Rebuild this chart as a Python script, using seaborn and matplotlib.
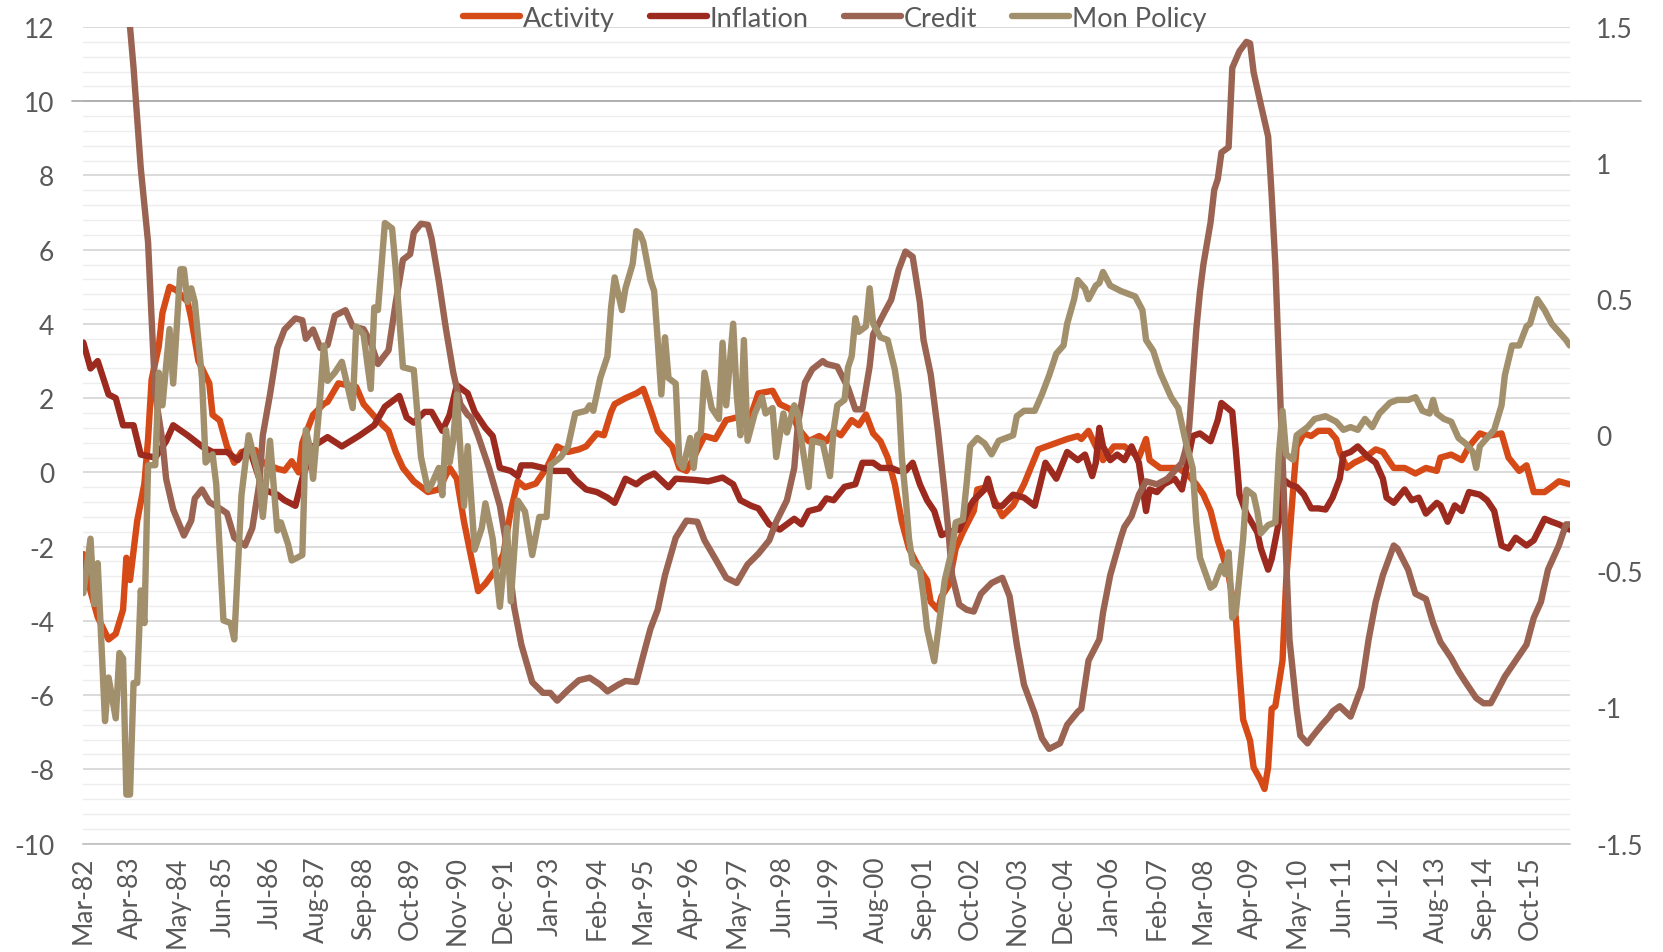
import numpy as np
import pandas as pd
import matplotlib
matplotlib.use("Agg")
import matplotlib.pyplot as plt
from matplotlib.lines import Line2D
import seaborn as sns

# ── Data: (months since Mar-82, value) ────────────────────────────────
activity = [
    (0, -2.2), (2, -3.2), (4, -3.9), (7, -4.5), (9, -4.35), (11, -3.7), (12, -2.3), (13, -2.9),
    (15, -1.3), (17, -0.3), (18, 0.9), (19, 2.5), (21, 3.4), (22, 4.3), (24, 5.0), (26, 4.9),
    (29, 4.6), (30, 4.15), (32, 3.0), (34, 2.6), (35, 2.4), (36, 1.55), (38, 1.4), (40, 0.7),
    (42, 0.26), (44, 0.55), (48, 0.6), (50, 0.26), (54, 0.1), (56, 0.05), (58, 0.3), (60, 0.0),
    (61, 0.8), (64, 1.55), (67, 1.85), (68, 1.9), (71, 2.4), (76, 2.3), (78, 1.84), (82, 1.4),
    (85, 1.12), (87, 0.55), (89, 0.12), (92, -0.24), (96, -0.53), (99, -0.46), (102, 0.12),
    (104, -0.17), (106, -1.33), (108, -2.26), (110, -3.2), (112, -3.0), (115, -2.6), (117, -2.2),
    (119, -1.04), (121, -0.24), (123, -0.4), (126, -0.3), (129, 0.12), (132, 0.7), (135, 0.55),
    (138, 0.62), (140, 0.7), (143, 1.05), (145, 1.0), (147, 1.63), (148, 1.84), (151, 2.0),
    (154, 2.13), (156, 2.25), (158, 1.7), (160, 1.12), (162, 0.9), (164, 0.7), (166, 0.12),
    (168, 0.04), (170, 0.4), (173, 0.98), (176, 0.9), (179, 1.41), (182, 1.48), (185, 1.27),
    (188, 2.13), (192, 2.2), (194, 1.84), (197, 1.7), (199, 1.2), (202, 0.84), (205, 0.98),
    (207, 0.84), (209, 1.12), (211, 1.0), (214, 1.41), (216, 1.27), (218, 1.56), (220, 1.05),
    (222, 0.84), (224, 0.4), (226, -0.32), (228, -1.33), (230, -2.05), (233, -2.62), (235, -2.91),
    (236, -3.49), (238, -3.7), (239, -3.34), (241, -3.05), (243, -2.05), (245, -1.61), (248, -1.04),
    (249, -0.46), (252, -0.39), (256, -1.18), (259, -0.89), (262, -0.32), (266, 0.62), (270, 0.76),
    (274, 0.9), (277, 0.98), (278, 0.9), (280, 1.12), (282, 0.7), (284, 0.33), (287, 0.7),
    (290, 0.7), (292, 0.55), (294, 0.4), (296, 0.9), (297, 0.33), (300, 0.12), (303, 0.12),
    (305, 0.12), (308, -0.1), (310, -0.32), (312, -0.6), (314, -1.04), (316, -1.83), (317, -2.12),
    (319, -2.77), (321, -3.92), (322, -5.36), (323, -6.66), (325, -7.23), (326, -7.95), (328, -8.3),
    (329, -8.53), (330, -7.95), (331, -6.37), (332, -6.3), (334, -5.07), (335, -2.91), (336, -1.76),
    (337, -0.46), (338, 0.7), (340, 1.05), (342, 0.98), (344, 1.12), (347, 1.12), (349, 0.9),
    (350, 0.55), (352, 0.12), (354, 0.26), (357, 0.4), (360, 0.62), (362, 0.55), (365, 0.12),
    (368, 0.12), (371, -0.03), (374, 0.12), (377, 0.04), (378, 0.4), (381, 0.48), (384, 0.33),
    (386, 0.7), (389, 1.05), (391, 0.98), (395, 1.05), (397, 0.4), (400, 0.04), (402, 0.19),
    (404, -0.53), (407, -0.53), (409, -0.39), (411, -0.24), (414, -0.32),
]

inflation = [
    (0, 3.5), (2, 2.8), (4, 3.0), (7, 2.1), (9, 2.0), (11, 1.27), (14, 1.27), (16, 0.48),
    (20, 0.4), (23, 0.84), (25, 1.27), (29, 1.0), (33, 0.7), (36, 0.55), (40, 0.55), (43, 0.33),
    (46, 0.7), (50, -0.46), (54, -0.6), (56, -0.75), (59, -0.9), (61, -0.17), (64, 0.7), (68, 0.95),
    (72, 0.7), (77, 1.0), (81, 1.27), (84, 1.77), (88, 2.06), (90, 1.48), (92, 1.34), (95, 1.63),
    (97, 1.63), (100, 1.12), (102, 1.55), (104, 2.35), (107, 2.13), (109, 1.63), (112, 1.2),
    (114, 0.98), (116, 0.12), (119, 0.04), (121, -0.1), (122, 0.19), (125, 0.19), (128, 0.12),
    (131, 0.04), (135, 0.04), (137, -0.2), (140, -0.46), (143, -0.53), (146, -0.68), (148, -0.82),
    (151, -0.17), (154, -0.32), (156, -0.17), (159, -0.03), (163, -0.4), (165, -0.17), (170, -0.2),
    (174, -0.24), (178, -0.14), (181, -0.32), (183, -0.75), (186, -0.9), (188, -0.97), (191, -1.4),
    (194, -1.54), (198, -1.25), (200, -1.4), (202, -1.04), (205, -0.97), (207, -0.7), (209, -0.75),
    (212, -0.39), (215, -0.32), (217, 0.26), (220, 0.26), (222, 0.12), (225, 0.12), (227, 0.04),
    (229, 0.04), (231, 0.26), (233, -0.32), (235, -0.75), (237, -1.04), (239, -1.69), (241, -1.61),
    (244, -1.54), (247, -0.9), (248, -0.75), (251, -0.46), (252, -0.17), (254, -0.9), (256, -0.9),
    (259, -0.6), (262, -0.68), (265, -0.9), (268, 0.26), (271, -0.17), (274, 0.55), (277, 0.33),
    (279, 0.48), (281, -0.1), (282, 0.26), (283, 1.2), (284, 0.7), (286, 0.33), (288, 0.48),
    (290, 0.33), (292, 0.7), (294, 0.26), (296, -1.04), (297, -0.46), (299, -0.53), (301, -0.32),
    (304, -0.17), (306, -0.46), (309, 0.98), (311, 1.05), (314, 0.84), (316, 1.41), (317, 1.87),
    (320, 1.63), (321, 0.6), (322, -0.6), (324, -1.11), (327, -1.61), (328, -2.05), (330, -2.62),
    (331, -2.33), (333, -1.33), (334, -0.17), (336, -0.32), (338, -0.39), (340, -0.6), (342, -0.97),
    (344, -0.97), (346, -1.0), (348, -0.68), (350, -0.17), (351, 0.48), (353, 0.55), (355, 0.7),
    (358, 0.4), (360, 0.26), (362, -0.17), (363, -0.68), (365, -0.82), (368, -0.46), (370, -0.75),
    (372, -0.68), (374, -1.11), (377, -0.82), (378, -0.89), (380, -1.33), (382, -0.89), (384, -1.04),
    (386, -0.53), (389, -0.6), (391, -0.75), (393, -1.04), (395, -1.97), (397, -2.05), (399, -1.76),
    (402, -1.97), (404, -1.83), (407, -1.25), (409, -1.33), (411, -1.4), (414, -1.54),
]

credit = [
    (0, 25.0), (3, 22.0), (6, 19.0), (9, 16.0), (12, 13.0), (13, 12.0), (14, 10.9), (16, 8.2),
    (18, 6.2), (19, 4.15), (20, 2.1), (22, 0.84), (23, -0.17), (25, -1.0), (28, -1.7), (30, -1.3),
    (31, -0.7), (33, -0.46), (35, -0.8), (38, -0.97), (40, -1.1), (42, -1.76), (45, -1.97),
    (47, -1.5), (49, -0.3), (50, 1.0), (52, 2.1), (54, 3.35), (56, 3.85), (59, 4.15), (61, 4.1),
    (62, 3.6), (64, 3.85), (66, 3.35), (68, 3.43), (70, 4.22), (73, 4.37), (75, 3.93), (78, 3.86),
    (80, 3.5), (82, 2.92), (85, 3.29), (87, 4.58), (89, 5.73), (91, 5.88), (92, 6.46), (94, 6.7),
    (96, 6.67), (97, 6.3), (99, 5.16), (101, 3.86), (103, 2.7), (105, 1.84), (107, 1.55),
    (108, 1.48), (110, 0.98), (113, 0.12), (116, -0.9), (118, -2.05), (120, -3.63), (122, -4.64),
    (125, -5.65), (128, -5.94), (130, -5.94), (132, -6.15), (135, -5.86), (138, -5.6), (141, -5.53),
    (144, -5.72), (146, -5.9), (149, -5.72), (151, -5.62), (154, -5.65), (156, -4.93), (158, -4.21),
    (160, -3.7), (162, -2.77), (165, -1.76), (168, -1.3), (171, -1.33), (173, -1.83), (176, -2.33),
    (179, -2.84), (182, -2.98), (185, -2.48), (188, -2.19), (191, -1.83), (193, -1.33), (196, -0.75),
    (198, 0.12), (199, 1.27), (201, 2.42), (203, 2.78), (206, 3.0), (207, 2.92), (210, 2.85),
    (213, 2.28), (215, 1.7), (217, 1.7), (219, 2.85), (220, 3.72), (223, 4.29), (225, 4.65),
    (227, 5.45), (229, 5.95), (231, 5.81), (233, 4.58), (234, 3.57), (236, 2.64), (238, 1.12),
    (240, -0.6), (241, -1.61), (242, -2.77), (244, -3.56), (246, -3.7), (248, -3.75), (250, -3.27),
    (253, -2.98), (256, -2.84), (258, -3.34), (260, -4.64), (262, -5.72), (265, -6.5), (267, -7.16),
    (269, -7.45), (272, -7.3), (274, -6.8), (277, -6.45), (278, -6.37), (280, -5.07), (283, -4.5),
    (284, -3.78), (286, -2.77), (289, -1.76), (290, -1.47), (292, -1.18), (294, -0.6), (296, -0.24),
    (299, -0.32), (302, -0.17), (304, 0.04), (306, 0.26), (307, 0.6), (308, 1.2), (309, 2.5),
    (310, 3.86), (311, 4.87), (312, 5.6), (314, 6.74), (315, 7.61), (316, 7.9), (317, 8.62),
    (319, 8.76), (320, 10.9), (322, 11.35), (324, 11.6), (325, 11.56), (326, 10.78), (328, 9.91),
    (330, 9.05), (331, 7.46), (332, 5.6), (333, 3.0), (334, 0.4), (335, -2.33), (336, -4.5),
    (338, -6.37), (339, -7.09), (341, -7.3), (342, -7.16), (345, -6.8), (347, -6.58), (348, -6.44),
    (350, -6.3), (353, -6.58), (356, -5.79), (358, -4.5), (360, -3.49), (362, -2.77), (365, -1.97),
    (366, -2.05), (369, -2.62), (371, -3.27), (374, -3.41), (376, -4.06), (378, -4.57), (381, -5.0),
    (383, -5.36), (385, -5.65), (388, -6.08), (390, -6.22), (392, -6.22), (394, -5.86), (396, -5.5),
    (399, -5.07), (402, -4.64), (404, -3.92), (406, -3.49), (408, -2.62), (411, -1.97), (413, -1.4),
    (414, -1.4),
]

# secondary (right) axis
mon_policy = [
    (0, -0.58), (2, -0.38), (3, -0.62), (4, -0.47), (6, -1.05), (7, -0.89), (9, -1.04), (10, -0.80),
    (11, -0.82), (12, -1.32), (13, -1.32), (14, -0.91), (15, -0.91), (16, -0.57), (17, -0.69),
    (18, -0.11), (20, -0.11), (21, 0.23), (22, 0.11), (24, 0.39), (25, 0.19), (27, 0.61), (28, 0.61),
    (29, 0.49), (30, 0.54), (31, 0.49), (33, 0.21), (34, -0.10), (36, -0.07), (37, -0.18),
    (39, -0.68), (41, -0.69), (42, -0.75), (44, -0.22), (46, 0.00), (49, -0.16), (50, -0.30),
    (52, -0.02), (54, -0.35), (55, -0.32), (57, -0.40), (58, -0.46), (61, -0.44), (62, 0.02),
    (63, -0.04), (64, -0.16), (66, 0.15), (67, 0.33), (68, 0.20), (70, 0.23), (72, 0.27), (75, 0.10),
    (76, 0.40), (78, 0.37), (80, 0.17), (81, 0.47), (82, 0.46), (83, 0.63), (84, 0.78), (86, 0.76),
    (87, 0.61), (89, 0.25), (92, 0.24), (94, -0.08), (96, -0.20), (97, -0.18), (99, -0.12),
    (100, -0.22), (101, 0.02), (102, -0.10), (103, -0.02), (104, 0.15), (106, -0.26), (107, -0.04),
    (109, -0.42), (111, -0.34), (112, -0.25), (114, -0.38), (116, -0.63), (118, -0.34), (119, -0.61),
    (121, -0.24), (123, -0.28), (125, -0.44), (127, -0.30), (129, -0.30), (130, -0.11), (133, -0.08),
    (135, -0.04), (137, 0.08), (140, 0.09), (141, 0.11), (142, 0.09), (144, 0.21), (146, 0.29),
    (147, 0.47), (148, 0.58), (150, 0.46), (151, 0.54), (153, 0.63), (154, 0.75), (155, 0.74),
    (156, 0.71), (158, 0.57), (159, 0.53), (160, 0.35), (161, 0.15), (162, 0.36), (163, 0.21),
    (165, 0.19), (166, -0.10), (167, -0.12), (169, -0.01), (170, -0.12), (171, 0.00), (172, 0.01),
    (173, 0.23), (175, 0.10), (177, 0.06), (178, 0.34), (179, 0.11), (181, 0.41), (182, 0.15),
    (183, 0.00), (184, 0.35), (185, -0.02), (187, 0.08), (189, 0.14), (190, 0.08), (192, 0.10),
    (193, -0.08), (195, 0.08), (196, 0.01), (198, 0.11), (199, 0.08), (200, -0.02), (202, -0.19),
    (203, -0.02), (206, -0.03), (208, -0.15), (209, 0.02), (210, 0.11), (212, 0.13), (213, 0.25),
    (214, 0.29), (215, 0.43), (216, 0.38), (218, 0.40), (219, 0.54), (220, 0.41), (222, 0.36),
    (224, 0.35), (226, 0.24), (227, 0.15), (228, -0.08), (229, -0.22), (230, -0.38), (231, -0.47),
    (233, -0.49), (234, -0.59), (235, -0.71), (237, -0.83), (239, -0.62), (240, -0.53), (242, -0.42),
    (243, -0.32), (245, -0.31), (246, -0.18), (247, -0.04), (249, -0.01), (251, -0.03), (253, -0.07),
    (255, -0.02), (259, 0.00), (260, 0.07), (262, 0.09), (265, 0.09), (267, 0.15), (269, 0.22),
    (271, 0.30), (273, 0.33), (274, 0.41), (276, 0.50), (277, 0.57), (279, 0.54), (280, 0.50),
    (282, 0.55), (283, 0.56), (284, 0.60), (286, 0.55), (289, 0.53), (291, 0.52), (293, 0.51),
    (295, 0.46), (296, 0.35), (298, 0.31), (300, 0.23), (302, 0.17), (303, 0.14), (305, 0.10),
    (307, -0.02), (309, -0.12), (310, -0.32), (311, -0.45), (314, -0.56), (315, -0.55), (317, -0.48),
    (318, -0.51), (319, -0.43), (320, -0.67), (321, -0.65), (323, -0.38), (324, -0.20), (326, -0.22),
    (327, -0.28), (328, -0.36), (330, -0.33), (332, -0.32), (333, -0.07), (334, 0.09), (335, -0.07),
    (337, -0.09), (338, 0.00), (341, 0.03), (343, 0.06), (346, 0.07), (349, 0.05), (351, 0.02),
    (353, 0.03), (355, 0.02), (357, 0.06), (359, 0.03), (361, 0.08), (364, 0.12), (366, 0.13),
    (369, 0.13), (371, 0.14), (373, 0.09), (375, 0.08), (376, 0.13), (377, 0.08), (379, 0.06),
    (381, 0.05), (383, -0.01), (385, -0.03), (387, -0.06), (388, -0.12), (389, -0.04), (391, -0.01),
    (393, 0.02), (395, 0.11), (396, 0.22), (398, 0.33), (400, 0.33), (402, 0.40), (403, 0.41),
    (405, 0.50), (407, 0.46), (409, 0.41), (411, 0.38), (413, 0.35), (414, 0.33),
]

left_ticks = list(range(-10, 13, 2))
right_ticks = [-1.5, -1, -0.5, 0, 0.5, 1, 1.5]
right_labels = ["-1.5", "-1", "-0.5", "0", "0.5", "1", "1.5"]

COLORS = {"Activity": "#d64a17", "Inflation": "#9c2a1e",
          "Credit": "#9b6452", "Mon Policy": "#a28f6c"}
TXT = "#595959"
FS = 19
LW = 4.6

months = pd.date_range("1982-03-01", periods=415, freq="MS")


def to_frame(pairs):
    idx, vals = zip(*pairs)
    return pd.DataFrame({"date": months[list(idx)], "value": vals})


# ── Plot ──────────────────────────────────────────────────────────────
sns.set_theme(style="white")
plt.rcParams["font.family"] = ["Lato", "DejaVu Sans"]
plt.rcParams["axes.unicode_minus"] = False

fig = plt.figure(figsize=(16.63, 9.53), dpi=100)
ax = fig.add_axes([0.0501, 0.1138, 0.8938, 0.8568])
ax2 = ax.twinx()

line_kw = dict(linewidth=LW, solid_joinstyle="round", solid_capstyle="round")
for name, pairs in [("Activity", activity), ("Inflation", inflation), ("Credit", credit)]:
    sns.lineplot(data=to_frame(pairs), x="date", y="value", ax=ax,
                 color=COLORS[name], legend=False, **line_kw)
sns.lineplot(data=to_frame(mon_policy), x="date", y="value", ax=ax2,
             color=COLORS["Mon Policy"], legend=False, **line_kw)

ax.set_xlim(months[0], months[414])
ax.set_ylim(-10, 12)
ax2.set_ylim(-1.5, 1.5)

ax.set_yticks(left_ticks)
ax.set_yticklabels([str(t) for t in left_ticks])
ax.set_yticks(np.arange(-10, 12.01, 0.4), minor=True)
ax.grid(which="major", axis="y", color="#d4d4d4", linewidth=1.2)
ax.grid(which="minor", axis="y", color="#ededed", linewidth=1.0)
ax.grid(which="both", axis="x", visible=False)
ax.set_axisbelow(True)

# odd stray line at 10 running past both axes
ax.axhline(10, xmin=-0.0075, xmax=1.048, color="#a8a8a8", linewidth=1.2, clip_on=False, zorder=1)

ax2.set_yticks(right_ticks)
ax2.set_yticklabels(right_labels)
ax2.grid(False)

tick_pos = months[::13]
ax.set_xticks(tick_pos)
ax.set_xticklabels([d.strftime("%b-%y") for d in tick_pos])

ax.tick_params(axis="x", which="major", direction="out", length=6.5, width=1.2,
               color="#bfbfbf", labelrotation=90, labelsize=FS, labelcolor=TXT, pad=2)
ax.tick_params(axis="y", which="both", length=0, labelsize=FS, labelcolor=TXT, pad=21)
ax2.tick_params(axis="y", length=0, labelsize=FS, labelcolor=TXT, pad=19)

ax.set_xlabel("")
ax.set_ylabel("")
ax2.set_ylabel("")
for s in ["left", "right", "top"]:
    ax.spines[s].set_visible(False)
    ax2.spines[s].set_visible(False)
ax.spines["bottom"].set_color("#bfbfbf")
ax.spines["bottom"].set_linewidth(1.2)
ax2.spines["bottom"].set_visible(False)

handles = [Line2D([], [], color=COLORS[n], linewidth=LW, solid_capstyle="round")
           for n in COLORS]
fig.legend(handles, list(COLORS), loc="center", bbox_to_anchor=(0.502, 0.98), ncol=4,
           frameon=False, handlelength=2.1, handletextpad=0.1, columnspacing=1.3,
           fontsize=19.5, labelcolor=TXT)

fig.savefig("out.png", dpi=100)
plt.close(fig)
